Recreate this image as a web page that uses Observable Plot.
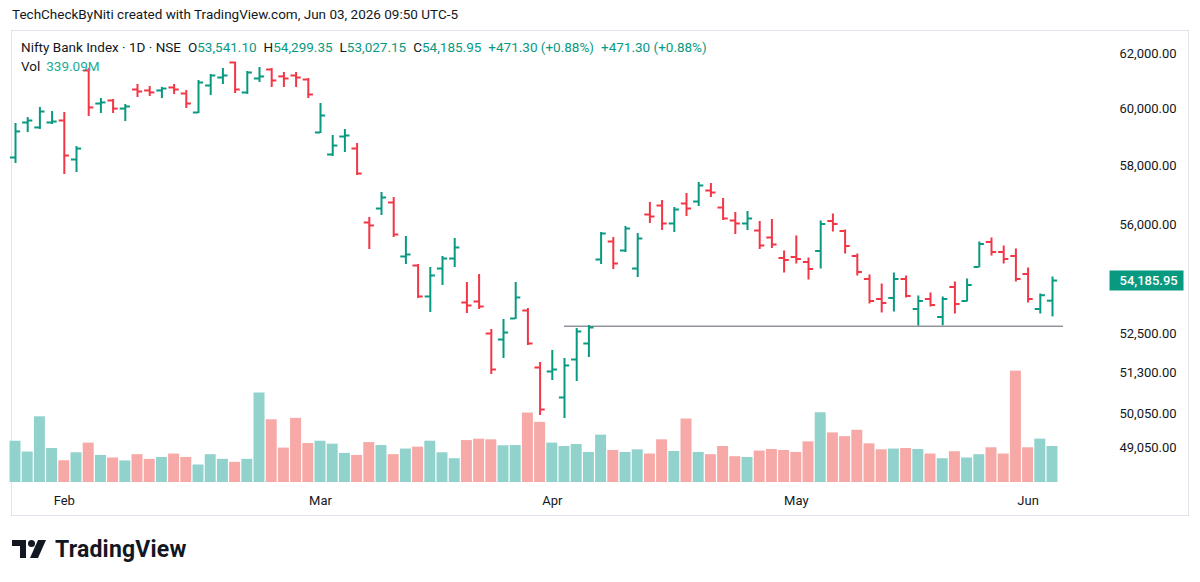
<!DOCTYPE html>
<html>
<head>
<meta charset="utf-8">
<script src="https://cdn.jsdelivr.net/npm/d3@7"></script>
<script src="https://cdn.jsdelivr.net/npm/@observablehq/plot@0.6"></script>
<style>
  html, body { margin: 0; padding: 0; background: #ffffff; }
  body { width: 1200px; height: 582px; overflow: hidden; font-family: Roboto, "Noto Sans", sans-serif; color: #131722; }
  #wrap { position: relative; width: 1200px; height: 582px; }
  .abs { position: absolute; white-space: pre; }
  #wrap > svg { position: absolute; left: 0; top: 0; background: transparent !important; max-width: none !important; }
  #header { left: 12px; top: 6px; font-size: 13.5px; line-height: 16px; }
  #frame { left: 11px; top: 30px; width: 1176px; height: 484px; border: 1px solid #e0e3eb; box-sizing: content-box; }
  #legend1 { left: 21px; top: 39px; font-size: 13.5px; line-height: 16px; z-index: 5; }
  #legend2 { left: 21px; top: 58px; font-size: 13.5px; line-height: 16px; z-index: 5; }
  .g { color: #089981; }
  .gv { color: #22ab94; }
  .sp { margin-left: 7px; }
  #logo { left: 12px; top: 535px; height: 28px; display: flex; align-items: center; }
  #logo svg { position: static; }
  #logo span { font-size: 23px; font-weight: 700; letter-spacing: 0.2px; margin-left: 7px; color: #131722; }
</style>
</head>
<body>
<div id="wrap">
  <div id="frame" class="abs"></div>
  <div id="header" class="abs">TechCheckByNiti created with TradingView.com, Jun 03, 2026 09:50 UTC-5</div>
  <div id="legend1" class="abs"></div>
  <div id="legend2" class="abs"></div>
  <div id="logo" class="abs">
    <svg width="36" height="18" viewBox="0 0 36 18">
      <path d="M0 0 H14 V18 H8 V6 H0 Z" fill="#131722"/>
      <circle cx="19.5" cy="3.5" r="3.5" fill="#131722"/>
      <path d="M26 0 H34 L26 18 H18 Z" fill="#131722"/>
    </svg>
    <span>TradingView</span>
  </div>
</div>
<script>
// ---- Data (Nifty Bank Index, daily) ----
const symbol = "Nifty Bank Index · 1D · NSE";
const monthLabels = ["Feb", "Mar", "Apr", "May", "Jun"];
const monthStart = [4, 25, 44, 64, 83];           // bar index of the first session of each month
const priceTicks = [62000, 60000, 58000, 56000, 52500, 51300, 50050, 49050];

const open = [58300, 59525, 59350, 59525, 59596, 58230, 61395, 60200, 60310, 60020,
  60705, 60670, 60670, 60778, 60561, 59880, 60850, 61140, 61688, 60597,
  61104, 61431, 61180, 61213, 61067, 59173, 58403, 59031, 58612, 56089,
  56557, 56760, 54966, 54672, 53675, 54575, 54900, 53483, 53515, 52506,
  52319, 52977, 53229, 51455, 51333, 50545, 51701, 52195, 54868, 55459,
  55163, 54575, 56356, 56658, 56056, 56726, 56793, 57166, 56591, 56156,
  56056, 55822, 55591, 54917, 54950, 54786, 55147, 56139, 55806, 54982,
  54236, 53595, 53627, 54236, 53277, 53595, 53024, 53978, 53531, 54624,
  55443, 55114, 54982, 54397, 53277, 53541.10];
const high = [59490, 59700, 60060, 59915, 59880, 58680, 61470, 60380, 60345, 60165,
  60886, 60815, 60780, 60886, 60669, 61031, 61249, 61468, 61700, 61359,
  61505, 61468, 61322, 61322, 61104, 60202, 59067, 59278, 58786, 56256,
  57098, 56929, 55624, 54705, 54608, 54966, 55558, 54123, 54381, 52631,
  52945, 54123, 53293, 51609, 51978, 51732, 52663, 52757, 55756, 55591,
  55956, 55723, 56760, 56827, 56591, 57064, 57439, 57405, 56895, 56423,
  56457, 56122, 56189, 55147, 55641, 54917, 56139, 56373, 55839, 55048,
  54365, 54074, 54429, 54332, 53691, 53786, 53659, 54139, 54236, 55443,
  55575, 55311, 55213, 54591, 53754, 54299.35];
const low = [58090, 59170, 59280, 59455, 57713, 57780, 59740, 59845, 59845, 59560,
  60417, 60455, 60380, 60525, 60023, 59845, 60489, 60886, 60561, 60525,
  60958, 60778, 60778, 60778, 60381, 59137, 58334, 58472, 57679, 55196,
  56323, 55591, 54705, 53611, 53166, 54026, 54608, 53134, 53261, 51241,
  51732, 52945, 52133, 50007, 51059, 49918, 51029, 51762, 54705, 54543,
  55097, 54284, 56056, 55822, 55756, 56289, 56625, 56929, 56156, 55690,
  55822, 55196, 55229, 54429, 54721, 54203, 54559, 55772, 55048, 54332,
  53436, 53150, 53181, 53627, 52741, 53340, 52750, 53118, 53499, 54600,
  54982, 54721, 54139, 53467, 53118, 53027.15];
const close = [59210, 59595, 59915, 59560, 58368, 58610, 60060, 60240, 60020, 60095,
  60633, 60600, 60740, 60705, 60202, 60958, 61213, 61213, 60705, 61322,
  61177, 61031, 61104, 61140, 60525, 59773, 58716, 59067, 57747, 55989,
  56929, 55690, 55032, 53675, 54349, 54900, 55262, 53388, 53356, 51394,
  52537, 53643, 52195, 50186, 51394, 51517, 52569, 52694, 55723, 54738,
  55889, 55558, 56289, 56056, 56524, 56557, 57337, 57098, 56223, 56056,
  56223, 55327, 55360, 54851, 54884, 54559, 56039, 56039, 55311, 54462,
  53531, 53467, 54236, 53691, 53531, 53404, 53595, 53436, 54042, 55377,
  55114, 54884, 54236, 53595, 53714.65, 54185.95];
const volumeM = [389, 287, 619, 320, 205, 280, 371, 255, 231, 203,
  262, 218, 236, 268, 236, 165, 262, 218, 190, 218,
  843, 591, 324, 604, 367, 389, 361, 274, 255, 376,
  348, 262, 315, 333, 389, 280, 224, 395, 408, 402,
  346, 348, 654, 567, 371, 339, 358, 283, 446, 302,
  283, 308, 268, 402, 292, 598, 283, 262, 339, 243,
  236, 296, 311, 302, 283, 383, 657, 467, 432, 492,
  364, 308, 315, 320, 311, 268, 224, 290, 231, 262,
  327, 268, 1049, 327, 408, 339.09];
const levelStart = [45];        // horizontal ray drawn on the chart (start bar, runs to the pane edge)
const levelPrice = [52735];

// ---- Styling ----
const GREEN = "#089981", RED = "#f23645";
const VOL_UP = "#92d2cc", VOL_DOWN = "#f7a9a7";
const fmt2 = d3.format(",.2f");

const bars = open.map((o, i) => ({ i, open: o, high: high[i], low: low[i], close: close[i], vol: volumeM[i], up: close[i] >= o }));
const n = bars.length;
const levels = levelStart.map((s, k) => ({ start: s, end: n - 1 + 0.9, price: levelPrice[k] }));
const last = bars[n - 1], prev = bars[n - 2];

// ---- Legend text ----
const chg = last.close - prev.close;
const pct = chg / prev.close * 100;
const chgStr = (chg >= 0 ? "+" : "") + fmt2(chg) + " (" + (pct >= 0 ? "+" : "") + pct.toFixed(2) + "%)";
document.getElementById("legend1").innerHTML =
  `<span>${symbol}</span><span class="sp">O</span><span class="g">${fmt2(last.open)}</span>` +
  `<span class="sp">H</span><span class="g">${fmt2(last.high)}</span>` +
  `<span class="sp">L</span><span class="g">${fmt2(last.low)}</span>` +
  `<span class="sp">C</span><span class="g">${fmt2(last.close)}</span>` +
  `<span class="sp g">${chgStr}</span><span class="sp g">${chgStr}</span>`;
document.getElementById("legend2").innerHTML =
  `<span>Vol</span><span class="gv" style="margin-left:6px">${last.vol.toFixed(2)}M</span>`;

const common = {
  width: 1200, height: 582,
  marginLeft: 11, marginRight: 135, marginTop: 30, marginBottom: 96,
  style: { background: "transparent", fontFamily: "Roboto, 'Noto Sans', sans-serif", fontSize: "13px", color: "#131722" }
};
const xScale = { domain: [0, n - 1], range: [15, 1052] };

// ---- Volume pane (behind) ----
const volPlot = Plot.plot({
  ...common,
  x: { ...xScale, axis: null },
  y: { domain: [0, 1000], range: [482, 482 - 1000 * 36 / 339.09], axis: null },
  marks: [
    Plot.rect(bars, {
      x1: d => d.i - 0.45, x2: d => d.i + 0.45,
      y1: () => 0, y2: "vol",
      fill: d => d.up ? VOL_UP : VOL_DOWN
    })
  ]
});

// rectangle symbol for the last-price tag on the price scale
const priceTag = { draw(ctx) { ctx.moveTo(-37, -10); ctx.lineTo(37, -10); ctx.lineTo(37, 10); ctx.lineTo(-37, 10); ctx.closePath(); } };

// ---- Price pane (OHLC bars, log scale) ----
const col = d => d.up ? GREEN : RED;
const pricePlot = Plot.plot({
  ...common,
  x: { ...xScale, axis: null },
  y: { type: "log", domain: [49050, 62000], range: [447.5, 53.5], axis: null },
  marks: [
    Plot.ruleY(levels, { y: "price", x1: "start", x2: "end", stroke: "#5d606b", strokeWidth: 1 }),
    Plot.ruleX(bars, { x: "i", y1: "low", y2: "high", stroke: col, strokeWidth: 2 }),
    Plot.ruleY(bars, { y: "open", x1: d => d.i - 0.42, x2: d => d.i, stroke: col, strokeWidth: 2 }),
    Plot.ruleY(bars, { y: "close", x1: d => d.i, x2: d => d.i + 0.42, stroke: col, strokeWidth: 2 }),
    Plot.axisY({ anchor: "right", ticks: priceTicks, tickFormat: fmt2, tickSize: 0, tickPadding: 54, label: null, fontSize: 13, fill: "#131722" }),
    Plot.axisX({ ticks: monthStart, tickFormat: d => monthLabels[monthStart.indexOf(d)], tickSize: 0, tickPadding: 9, label: null, fontSize: 13, fill: "#131722" }),
    Plot.dot([last.close], { y: d => d, frameAnchor: "right", dx: 81, symbol: priceTag, fill: GREEN, stroke: "none", r: 10 }),
    Plot.text([last.close], { y: d => d, text: d => fmt2(d), frameAnchor: "right", dx: 54, textAnchor: "start", fill: "white", fontSize: 13, fontWeight: 500 })
  ]
});

const wrap = document.getElementById("wrap");
wrap.insertBefore(volPlot, document.getElementById("legend1"));
wrap.insertBefore(pricePlot, document.getElementById("legend1"));
</script>
</body>
</html>
